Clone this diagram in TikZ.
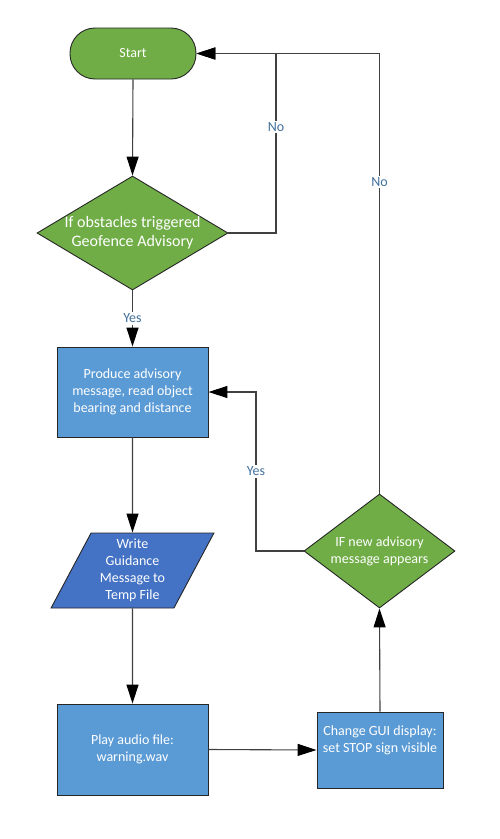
\documentclass[tikz,border=0pt]{standalone}
\usepackage{fontspec}
\setmainfont{Carlito}
\usetikzlibrary{shapes.geometric, arrows.meta}
\definecolor{flowgreen}{HTML}{70AD47}
\definecolor{flowblue}{HTML}{5B9BD5}
\definecolor{flowdark}{HTML}{4472C4}
\definecolor{flowlabel}{HTML}{41719C}
\definecolor{flowline}{HTML}{404040}

\begin{document}
\begin{tikzpicture}[x=1pt, y=-1pt,
		shapebox/.style={draw=black!85, line width=0.9pt, text=white, align=center, font=\fontsize{14}{17.2}\selectfont},
		startbox/.style={shapebox, fill=flowgreen, rounded corners=25pt, minimum width=126pt, minimum height=51pt},
		decision/.style={shapebox, diamond, fill=flowgreen, inner sep=-10pt},
		process/.style={shapebox, rectangle, fill=flowblue, minimum width=151pt},
		iobox/.style={shapebox, trapezium, trapezium left angle=63.7, trapezium right angle=116.3, trapezium stretches=true, fill=flowdark, inner sep=2pt, minimum width=163pt, minimum height=75pt},
		flow/.style={draw=flowline, line width=1.1pt, -{Triangle[length=19pt, width=12pt, color=black, fill=black]}},
		answer/.style={fill=white, text=flowlabel, font=\fontsize{14}{17}\selectfont, inner sep=1.5pt}]
	\useasboundingbox (0,0) rectangle (499,839);
	
	\node[startbox] (start) at (133,53.5) {Start};
	\node[decision, aspect=1.675, minimum width=191pt, minimum height=114pt, font=\fontsize{16}{19.3}\selectfont] (dec1) at (132.5,233) {If obstacles triggered\\Geofence Advisory};
	\node[process, minimum height=90pt] (prod) at (132.5,392) {Produce advisory\\message, read object\\bearing and distance};
	\node[iobox] (write) at (132.5,570.5) {Write\\Guidance\\Message to\\Temp File};
	\node[process, minimum height=91pt] (play) at (132.5,749.5) {Play audio file:\\warning.wav};
	\node[process, minimum width=126pt, minimum height=76pt, text depth=21pt] (gui) at (380,750) {Change GUI display:\\set STOP sign visible};
	\node[decision, aspect=1.32, minimum width=151pt, minimum height=114pt] (dec2) at (379.5,551) {IF new advisory\\message appears};
	
	\coordinate (loopA) at (276,53.5);
	\coordinate (loopC) at (256,392);
	
	\draw[flow] (start.south) -- (dec1.north);
	\draw[flow] (dec1.east) -| (loopA) node[answer, pos=0.795] {No} -- (start.east);
	\draw[flow] (dec1.south) -- node[answer] {Yes} (prod.north);
	\draw[flow] (prod.south) -- (write.north);
	\draw[flow] (write.south) -- (play.north);
	\draw[flow] (play.east) -- (gui.west);
	\draw[flow] (gui.north) -- (dec2.south);
	\draw[flow] (dec2.west) -| (loopC) node[answer, pos=0.75] {Yes} -- (prod.east);
	\draw[flow] (dec2.north) |- node[answer, pos=0.354] {No} (start.east);
\end{tikzpicture}
\end{document}
